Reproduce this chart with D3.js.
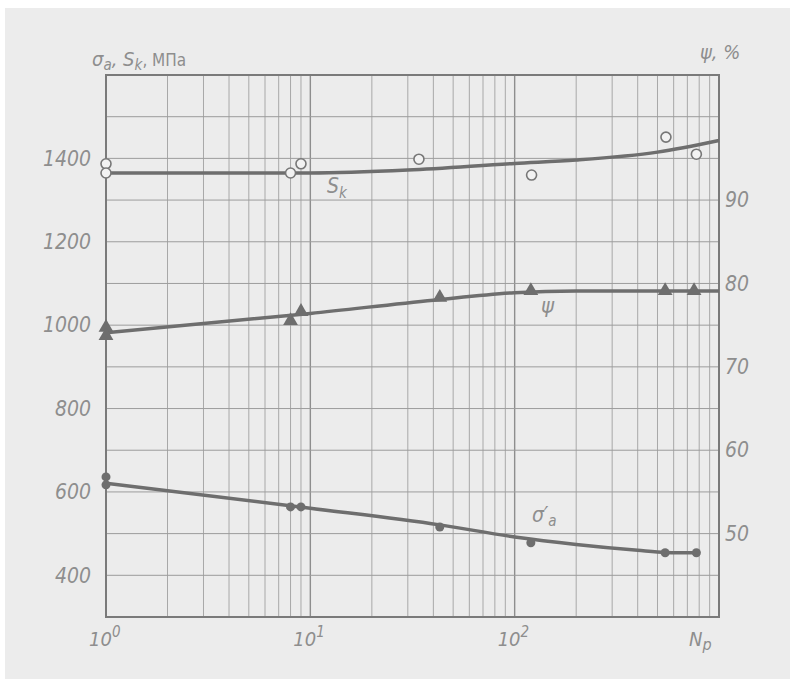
<!DOCTYPE html>
<html>
<head>
<meta charset="utf-8">
<script src="https://cdn.jsdelivr.net/npm/d3@7"></script>
<style>
  body { margin: 0; background: #fff; }
  svg { display: block; }
  .lbl { font-family: "DejaVu Sans Condensed", "Liberation Sans Narrow", "DejaVu Sans", sans-serif;
         font-stretch: condensed; font-style: italic; fill: #8e8e8e; }
</style>
</head>
<body>
<svg id="chart" width="790" height="679"></svg>
<script>
// measured points (cycles N, value)
const skN = [1, 1, 8, 9, 34, 121, 550, 775];
const skVal = [1387, 1365, 1365, 1387, 1398, 1360, 1451, 1410];
const psiN = [1, 1, 8, 9, 43, 120, 545, 755];
const psiVal = [74.6, 73.6, 75.4, 76.5, 78.2, 79.0, 79.0, 79.0];
const sigN = [1, 1, 8, 9, 43, 120, 545, 775];
const sigVal = [636, 617, 564, 564, 516, 478, 454, 454];

// fitted curves
const skCurveN = [1, 10, 30, 100, 200, 500, 1000];
const skCurveVal = [1365, 1365, 1372, 1388, 1396, 1415, 1443];
const psiCurveN = [1, 10, 40, 100, 200, 1000];
const psiCurveVal = [74.1, 76.4, 78.0, 78.9, 79.1, 79.1];
const sigCurveN = [1, 10, 43, 100, 200, 400, 550, 775];
const sigCurveVal = [621, 561, 521, 492, 474, 460, 455, 454];

const leftTicks = [400, 600, 800, 1000, 1200, 1400];
const rightTicks = [50, 60, 70, 80, 90];
const decadeTicks = [1, 10, 100];

const svg = d3.select('#chart');
const box = { left: 106, right: 719, top: 75, bottom: 617 };

const x = d3.scaleLog().domain([1, 1000]).range([box.left, box.right]);
const y = d3.scaleLinear().domain([300, 1600]).range([box.bottom, box.top]);
const y2 = d3.scaleLinear().domain([40, 105]).range([box.bottom, box.top]);

// scanned paper
svg.append('rect').attr('x', 5).attr('y', 8).attr('width', 785).attr('height', 671)
  .attr('fill', '#ececec');

// grid
let grid = svg.append('g');
grid.selectAll('line.v').data(x.ticks().filter(d => d > 1 && d < 1000))
  .join('line')
  .attr('x1', d => x(d)).attr('x2', d => x(d))
  .attr('y1', box.top).attr('y2', box.bottom)
  .attr('stroke', d => decadeTicks.includes(d) ? '#8e8e8e' : '#a8a8a8')
  .attr('stroke-width', d => decadeTicks.includes(d) ? 1.4 : 1);
grid.selectAll('line.h').data(d3.range(400, 1600, 100))
  .join('line')
  .attr('x1', box.left).attr('x2', box.right)
  .attr('y1', d => y(d)).attr('y2', d => y(d))
  .attr('stroke', '#9c9c9c').attr('stroke-width', 1);

svg.append('rect')
  .attr('x', box.left).attr('y', box.top)
  .attr('width', box.right - box.left).attr('height', box.bottom - box.top)
  .attr('fill', 'none').attr('stroke', '#7a7a7a').attr('stroke-width', 2);

// axes (labels only, the frame is drawn above)
let leftAxis = svg.append('g').attr('transform', `translate(${box.left - 15},0)`)
  .call(d3.axisLeft(y).tickValues(leftTicks).tickFormat(d3.format('d')).tickSize(0).tickPadding(0));
let rightAxis = svg.append('g').attr('transform', `translate(${box.right + 6},0)`)
  .call(d3.axisRight(y2).tickValues(rightTicks).tickFormat(d3.format('d')).tickSize(0).tickPadding(0));
[leftAxis, rightAxis].forEach(a => {
  a.select('.domain').remove();
  a.selectAll('text').attr('class', 'lbl').attr('font-size', 21).attr('fill', null);
});

// bottom decade labels
let bottom = svg.append('g');
decadeTicks.forEach((d, i) => {
  let t = bottom.append('text').attr('class', 'lbl').attr('font-size', 20)
    .attr('x', x(d) - 17).attr('y', 646);
  t.append('tspan').text('10');
  t.append('tspan').attr('dy', -9).attr('font-size', 15).text(i);
});
bottom.append('text').attr('class', 'lbl').attr('font-size', 20)
  .attr('x', 689).attr('y', 646).text('N')
  .append('tspan').attr('dy', 4).attr('font-size', 16).text('p');

// axis titles
let lt = svg.append('text').attr('class', 'lbl').attr('font-size', 20).attr('x', 92).attr('y', 66);
lt.append('tspan').text('σ');
lt.append('tspan').attr('dy', 4).attr('font-size', 15).text('a');
lt.append('tspan').attr('dy', -4).text(', S');
lt.append('tspan').attr('dy', 4).attr('font-size', 15).text('k');
lt.append('tspan').attr('dy', -4).attr('font-style', 'normal').attr('font-size', 17).text(', МПа');

svg.append('text').attr('class', 'lbl').attr('font-size', 20)
  .attr('x', 700).attr('y', 59).text('ψ, %');

// curves
const ink = '#6e6e6e';
function curve (ns, vs, ys) {
  let line = d3.line().x(d => x(d[0])).y(d => ys(d[1])).curve(d3.curveMonotoneX);
  svg.append('path').datum(d3.zip(ns, vs)).attr('d', line)
    .attr('fill', 'none').attr('stroke', ink).attr('stroke-width', 3.5);
}
curve(skCurveN, skCurveVal, y);
curve(psiCurveN, psiCurveVal, y2);
curve(sigCurveN, sigCurveVal, y);

// markers
svg.append('g').selectAll('circle').data(d3.zip(skN, skVal)).join('circle')
  .attr('cx', d => x(d[0])).attr('cy', d => y(d[1])).attr('r', 5)
  .attr('fill', '#f2f2f2').attr('stroke', '#777').attr('stroke-width', 1.6);

const tri = d3.symbol().type(d3.symbolTriangle).size(95);
svg.append('g').selectAll('path').data(d3.zip(psiN, psiVal)).join('path')
  .attr('d', tri)
  .attr('transform', d => `translate(${x(d[0])},${y2(d[1]) - 1})`)
  .attr('fill', ink);

svg.append('g').selectAll('circle').data(d3.zip(sigN, sigVal)).join('circle')
  .attr('cx', d => x(d[0])).attr('cy', d => y(d[1])).attr('r', 4.5)
  .attr('fill', ink);

// curve names
let sk = svg.append('text').attr('class', 'lbl').attr('font-size', 21).attr('x', 327).attr('y', 193);
sk.append('tspan').text('S');
sk.append('tspan').attr('dy', 5).attr('font-size', 15).text('k');

svg.append('text').attr('class', 'lbl').attr('font-size', 22)
  .attr('x', 541).attr('y', 313).text('ψ');

let sa = svg.append('text').attr('class', 'lbl').attr('font-size', 21).attr('x', 532).attr('y', 522);
sa.append('tspan').text('σ\u2032');
sa.append('tspan').attr('dy', 4).attr('font-size', 15).text('a');
</script>
</body>
</html>
